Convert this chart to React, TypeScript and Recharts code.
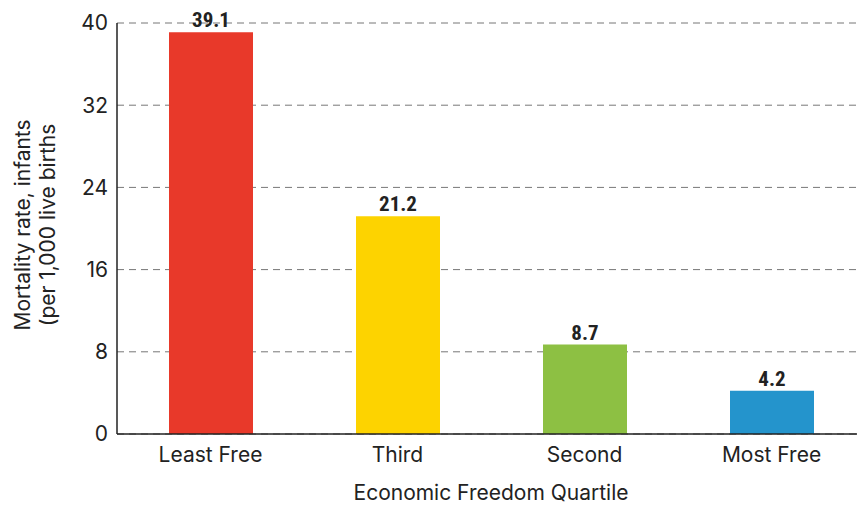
import React from 'react';
import { BarChart, Bar, XAxis, YAxis, CartesianGrid, Cell, LabelList, Label } from 'recharts';

const categories = ['Least Free', 'Third', 'Second', 'Most Free'];
const mortality = [39.1, 21.2, 8.7, 4.2];
const barColors = ['#E8392A', '#FDD300', '#8DC043', '#2494CC'];
const yTicks = [0, 8, 16, 24, 32, 40];

const data = categories.map((name, i) => ({ name, value: mortality[i] }));

const FONT = 'Inter, Roboto, "Noto Sans", sans-serif';
const NARROW = '"Liberation Sans Narrow", "Roboto Condensed", Roboto, sans-serif';

const YLabel = () => {
  const cy = 225;
  return (
    <g>
      <text x={22} y={cy} transform={`rotate(-90 22 ${cy})`} textAnchor="middle" dominantBaseline="central"
        fontFamily={FONT} fontSize={21} fill="#222">
        Mortality rate, infants
      </text>
      <text x={47} y={cy} transform={`rotate(-90 47 ${cy})`} textAnchor="middle" dominantBaseline="central"
        fontFamily={FONT} fontSize={21} fill="#222">
        (per 1,000 live births
      </text>
    </g>
  );
};

export default function App() {
  return (
    <div style={{ position: 'fixed', left: 0, top: 0, width: 857, height: 507, overflow: 'hidden', background: '#fff' }}>
      <BarChart width={868} height={507} data={data} margin={{ top: 23, right: 3, bottom: 0, left: 0 }}>
        <CartesianGrid vertical={false} stroke="#777" strokeDasharray="7 5" />
        <XAxis
          dataKey="name"
          height={73}
          tickLine={false}
          axisLine={{ stroke: '#222', strokeWidth: 1.5 }}
          tick={{ fontFamily: FONT, fontSize: 21, fill: '#222' }}
          tickMargin={7}
        >
          <Label value="Economic Freedom Quartile" position="insideBottom" offset={7}
            style={{ fontFamily: FONT, fontSize: 21, fill: '#222' }} />
        </XAxis>
        <YAxis
          width={117}
          domain={[0, 40]}
          ticks={yTicks}
          interval={0}
          tickLine={false}
          axisLine={{ stroke: '#222', strokeWidth: 1.5 }}
          tick={{ fontFamily: FONT, fontSize: 21, fill: '#222' }}
          tickMargin={3}
        >
          <Label content={YLabel} />
        </YAxis>
        <Bar dataKey="value" barSize={84} isAnimationActive={false}>
          {data.map((d, i) => (
            <Cell key={d.name} fill={barColors[i]} />
          ))}
          <LabelList dataKey="value" position="top" offset={5}
            style={{ fontFamily: NARROW, fontSize: 21, fontWeight: 700, fill: '#222' }} />
        </Bar>
      </BarChart>
    </div>
  );
}
